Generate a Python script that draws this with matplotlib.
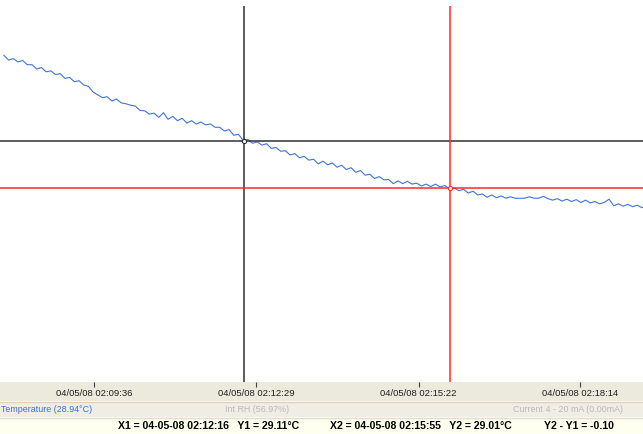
import pandas as pd
import numpy as np
import matplotlib
matplotlib.use("Agg")
import matplotlib.pyplot as plt
from matplotlib.patches import Rectangle

plt.rcParams['font.family'] = ['Liberation Sans', 'DejaVu Sans']

# logged temperature, one reading every 5 s from 02:08:00
start = "2008-04-05 02:08:00"
temps = [
    29.292, 29.282, 29.285, 29.278, 29.281, 29.272, 29.272, 29.263, 29.266, 29.257,
    29.259, 29.251, 29.253, 29.243, 29.245, 29.236, 29.238, 29.229, 29.226, 29.214,
    29.208, 29.202, 29.204, 29.195, 29.199, 29.191, 29.189, 29.186, 29.184, 29.175,
    29.174, 29.167, 29.169, 29.160, 29.170, 29.156, 29.162, 29.153, 29.158, 29.148,
    29.153, 29.146, 29.150, 29.144, 29.146, 29.139, 29.139, 29.131, 29.134, 29.122,
    29.124, 29.111, 29.113, 29.105, 29.108, 29.101, 29.104, 29.094, 29.096, 29.088,
    29.089, 29.080, 29.083, 29.074, 29.077, 29.069, 29.071, 29.061, 29.067, 29.059,
    29.063, 29.054, 29.058, 29.049, 29.053, 29.043, 29.047, 29.037, 29.039, 29.030,
    29.034, 29.027, 29.028, 29.019, 29.025, 29.019, 29.024, 29.018, 29.020, 29.014,
    29.018, 29.013, 29.018, 29.012, 29.015, 29.008, 29.010, 29.004, 29.007, 28.999,
    29.003, 28.995, 28.997, 28.990, 28.995, 28.989, 28.993, 28.988, 28.991, 28.988,
    28.988, 28.988, 28.991, 28.988, 28.988, 28.992, 28.987, 28.984, 28.987, 28.982,
    28.986, 28.981, 28.985, 28.979, 28.984, 28.978, 28.981, 28.976, 28.979, 28.986,
    28.972, 28.976, 28.971, 28.975, 28.970, 28.973, 28.968, 28.971,
]
times = pd.date_range(start, periods=len(temps), freq="5s")

tick_times = ["2008-04-05 02:09:36", "2008-04-05 02:12:29",
              "2008-04-05 02:15:22", "2008-04-05 02:18:14"]
tick_labels = ["04/05/08 02:09:36", "04/05/08 02:12:29",
               "04/05/08 02:15:22", "04/05/08 02:18:14"]

x1, y1 = "2008-04-05 02:12:16", 29.11
x2, y2 = "2008-04-05 02:15:55", 29.01

legend_items = ["Temperature (28.94°C)", "Int RH (56.97%)", "Current 4 - 20 mA (0.00mA)"]

W, H = 643, 434
fig = plt.figure(figsize=(W / 100, H / 100), dpi=100)
fig.patch.set_facecolor("white")

def fy(px):
    return 1 - px / H

# bands under the plot
fig.add_artist(Rectangle((0, fy(401)), 1, fy(382) - fy(401), transform=fig.transFigure,
                         facecolor="#ECEADD", edgecolor="none", zorder=-2))
fig.add_artist(Rectangle((0, fy(417)), 1, fy(402) - fy(417), transform=fig.transFigure,
                         facecolor="#F0EEE4", edgecolor="none", zorder=-2))
fig.add_artist(Rectangle((0, 0), 1, fy(418), transform=fig.transFigure,
                         facecolor="#FFFFF0", edgecolor="none", zorder=-2))
for yy, c in [(401.5, "#E9CDBB"), (417.5, "#E9D9C8")]:
    fig.add_artist(plt.Line2D([0, 1], [fy(yy), fy(yy)], transform=fig.transFigure,
                              color=c, lw=1, zorder=-1))

ax = fig.add_axes([0, fy(382), 1, fy(6) - fy(382)])
ax.set_facecolor("white")
for s in ax.spines.values():
    s.set_visible(False)

ax.plot(times, temps, color="#3F74D8", lw=0.8, zorder=3)

ax.axvline(pd.Timestamp(x1), color="#303030", lw=1.1, zorder=4)
ax.axhline(y1, color="#303030", lw=1.1, zorder=4)
ax.axvline(pd.Timestamp(x2), color="#FF2A2A", lw=1.1, zorder=4)
ax.axhline(y2, color="#FF2A2A", lw=1.1, zorder=4)
ax.plot([pd.Timestamp(x1)], [y1], marker="o", ms=3, mfc="white", mec="#303030", mew=0.8, zorder=5)
ax.plot([pd.Timestamp(x2)], [y2], marker="o", ms=3, mfc="white", mec="#FF2A2A", mew=0.8, zorder=5)

ax.set_xlim(pd.Timestamp("2008-04-05 02:07:55.8"), pd.Timestamp("2008-04-05 02:19:21.2"))
ax.set_ylim(28.597, 29.397)
ax.set_yticks([])
ax.set_xticks(pd.to_datetime(tick_times))
ax.set_xticklabels(tick_labels)
ax.tick_params(axis="x", direction="out", length=3.5, width=0.8, color="#404040",
               pad=1.5, labelsize=6.8, labelcolor="#202020")

# legend row
fig.text(1 / W, fy(410), legend_items[0], fontsize=6.4, color="#3A6FD6", ha="left", va="center")
fig.text(257 / W, fy(410), legend_items[1], fontsize=6.4, color="#B8B8B8", ha="center", va="center")
fig.text(623 / W, fy(410), legend_items[2], fontsize=6.4, color="#B8B8B8", ha="right", va="center")

# cursor readout
fig.text(118 / W, fy(426), f"X1 = 04-05-08 02:12:16   Y1 = {y1:.2f}°C", fontsize=7.6,
         fontweight="bold", ha="left", va="center")
fig.text(330 / W, fy(426), f"X2 = 04-05-08 02:15:55   Y2 = {y2:.2f}°C", fontsize=7.6,
         fontweight="bold", ha="left", va="center")
fig.text(544 / W, fy(426), f"Y2 - Y1 = {y2 - y1:.2f}", fontsize=7.6,
         fontweight="bold", ha="left", va="center")

fig.savefig("out.png", dpi=100)
